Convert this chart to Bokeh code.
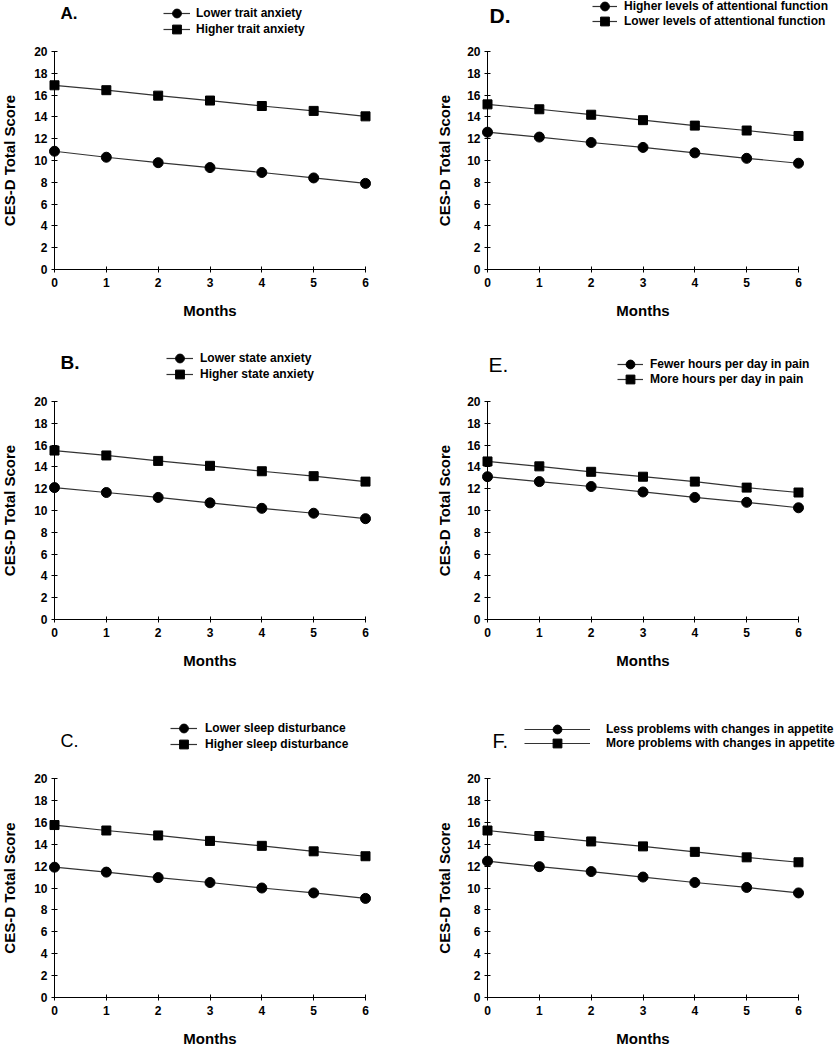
from bokeh.plotting import figure
from bokeh.layouts import gridplot
from bokeh.models import Legend, LegendItem, Label, FixedTicker, Range1d
from bokeh.embed import file_html
from bokeh.resources import INLINE

# ---------------- data ----------------
months = [0, 1, 2, 3, 4, 5, 6]
y_ticks = [0, 2, 4, 6, 8, 10, 12, 14, 16, 18, 20]

a_lower_trait = [10.85, 10.3, 9.8, 9.35, 8.9, 8.4, 7.9]
a_higher_trait = [16.9, 16.45, 15.95, 15.5, 15.0, 14.55, 14.05]

b_lower_state = [12.1, 11.65, 11.2, 10.7, 10.2, 9.75, 9.25]
b_higher_state = [15.5, 15.05, 14.55, 14.1, 13.6, 13.15, 12.65]

c_lower_sleep = [11.9, 11.45, 10.95, 10.5, 10.0, 9.55, 9.05]
c_higher_sleep = [15.75, 15.25, 14.8, 14.3, 13.85, 13.35, 12.9]

d_higher_attn = [12.6, 12.15, 11.65, 11.2, 10.7, 10.2, 9.75]
d_lower_attn = [15.15, 14.7, 14.2, 13.7, 13.2, 12.75, 12.25]

e_fewer_pain = [13.1, 12.65, 12.2, 11.7, 11.2, 10.75, 10.25]
e_more_pain = [14.5, 14.05, 13.55, 13.1, 12.65, 12.1, 11.65]

f_less_appetite = [12.45, 11.95, 11.5, 11.0, 10.5, 10.05, 9.55]
f_more_appetite = [15.25, 14.75, 14.25, 13.8, 13.3, 12.8, 12.35]

# ---------------- layout constants (pixels) ----------------
FONT = "Liberation Sans"
COL_W = [420, 418]
COL_OFF = [0, 420]
ROW_H = [340, 360, 350]
ROW_OFF = [0, 340, 700]
X_PIX = [(54, 365), (487, 798)]              # pixel of month 0 and month 6
Y_PIX = [(51, 269), (401, 619), (778, 997)]  # pixel of score 20 and score 0
YLAB_STANDOFF = [13, 11]
MONTHS_STANDOFF = 12
LEG_GH = 22


def make_panel(col, row, letter, letter_xy, letter_size, letter_bold,
               circ_vals, sq_vals, circ_name, sq_name,
               leg_xy, leg_gap, glyph_w, standoff):
    W, H = COL_W[col], ROW_H[row]
    ox, oy = COL_OFF[col], ROW_OFF[row]
    c0, c6 = X_PIX[col][0] - ox, X_PIX[col][1] - ox
    t, b = Y_PIX[row][0] - oy, Y_PIX[row][1] - oy
    sx = (c6 - c0) / 6.0
    sy = (b - t) / 20.0
    p = figure(width=W, height=H, output_backend="svg", toolbar_location=None,
               x_range=Range1d(-c0 / sx, 6 + (W - c6) / sx),
               y_range=Range1d(-(H - b) / sy, 20 + t / sy),
               min_border=0, min_border_left=0, min_border_right=0,
               min_border_top=0, min_border_bottom=0)
    p.grid.visible = False
    p.outline_line_color = None
    p.background_fill_color = "white"
    p.border_fill_color = "white"

    for ax in (p.xaxis[0], p.yaxis[0]):
        ax.axis_line_color = "black"
        ax.axis_line_width = 1
        ax.major_tick_line_color = "black"
        ax.major_tick_in = 3
        ax.major_tick_out = 3
        ax.minor_tick_line_color = None
        ax.major_label_text_font = FONT
        ax.major_label_text_font_style = "bold"
        ax.major_label_text_font_size = "12px"
        ax.major_label_text_color = "black"
        ax.axis_label_text_font = FONT
        ax.axis_label_text_font_style = "bold"
        ax.axis_label_text_font_size = "15px"
        ax.axis_label_text_color = "black"

    xa = p.xaxis[0]
    xa.ticker = FixedTicker(ticks=months)
    xa.bounds = (0, 6)
    xa.fixed_location = 0
    xa.major_label_standoff = 5
    xa.axis_label = "Months"
    xa.axis_label_standoff = MONTHS_STANDOFF

    ya = p.yaxis[0]
    ya.ticker = FixedTicker(ticks=y_ticks)
    ya.bounds = (0, 20)
    ya.fixed_location = 0
    ya.major_label_standoff = 4
    ya.axis_label = "CES-D Total Score"
    ya.axis_label_standoff = YLAB_STANDOFF[col]

    lc = p.line(months, circ_vals, line_color="#333333", line_width=1.2)
    sc = p.scatter(months, circ_vals, marker="circle", size=10, color="black")
    lq = p.line(months, sq_vals, line_color="#333333", line_width=1.2)
    sq = p.scatter(months, sq_vals, marker="square", size=9, color="black")

    lx, ly = leg_xy
    for i, (name, rends) in enumerate([(circ_name, [lc, sc]), (sq_name, [lq, sq])]):
        top = (ly + i * leg_gap - oy) - LEG_GH / 2
        legend = Legend(
            items=[LegendItem(label=name, renderers=rends)],
            location=(lx - ox, H - top - LEG_GH),
            orientation="vertical",
            glyph_width=glyph_w, glyph_height=LEG_GH, label_height=LEG_GH,
            spacing=0, padding=0, margin=0,
            border_line_color=None, background_fill_alpha=0,
            label_standoff=standoff,
            label_text_font=FONT, label_text_font_style="bold",
            label_text_font_size="12px", label_text_color="black",
        )
        p.add_layout(legend)

    tx, ty = letter_xy
    p.add_layout(Label(x=tx - ox, y=H - (ty - oy), x_units="screen", y_units="screen",
                       text=letter, text_font=FONT,
                       text_font_style="bold" if letter_bold else "normal",
                       text_font_size=f"{letter_size}px", text_color="black",
                       text_align="left", text_baseline="middle"))
    return p


pA = make_panel(0, 0, "A.", (60, 13), 17, True, a_lower_trait, a_higher_trait,
                "Lower trait anxiety", "Higher trait anxiety", (163, 13), 16, 27, 6)
pB = make_panel(0, 1, "B.", (60, 362), 19, True, b_lower_state, b_higher_state,
                "Lower state anxiety", "Higher state anxiety", (166, 358), 16, 27, 7)
pC = make_panel(0, 2, "C.", (60, 740), 18, False, c_lower_sleep, c_higher_sleep,
                "Lower sleep disturbance", "Higher sleep disturbance", (170, 728), 16, 27, 8)
pD = make_panel(1, 0, "D.", (489, 15), 21, True, d_higher_attn, d_lower_attn,
                "Higher levels of attentional function", "Lower levels of attentional function",
                (592, 6), 15, 25, 7)
pE = make_panel(1, 1, "E.", (488, 364), 21, False, e_fewer_pain, e_more_pain,
                "Fewer hours per day in pain", "More hours per day in pain",
                (617, 364), 15, 26, 7)
pF = make_panel(1, 2, "F.", (492, 740), 20, False, f_less_appetite, f_more_appetite,
                "Less problems with changes in appetite", "More problems with changes in appetite",
                (524, 729), 14, 66, 16)

grid = gridplot([[pA, pD], [pB, pE], [pC, pF]], toolbar_location=None)

open("out.html", "w").write(file_html(grid, INLINE))
